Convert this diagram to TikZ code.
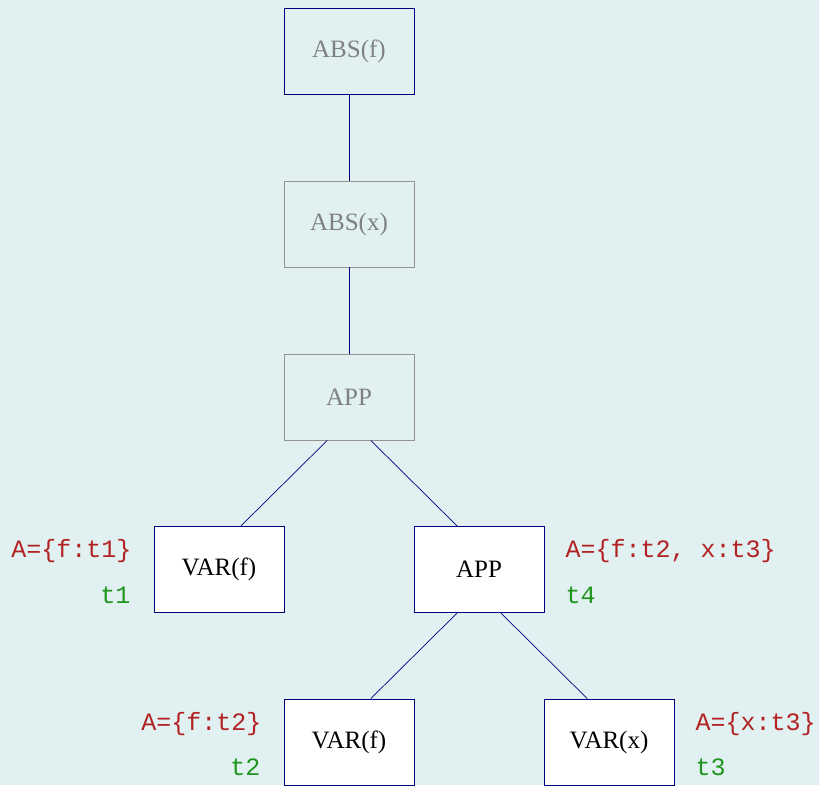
\documentclass[tikz,border=0pt]{standalone}
\usepackage{fontspec}
\setmainfont{Liberation Serif}
\setmonofont{Liberation Mono}
\usetikzlibrary{calc}

\definecolor{bgcol}{RGB}{225,241,241}
\definecolor{edgecol}{RGB}{0,0,128}
\definecolor{envcol}{RGB}{178,34,34}
\definecolor{typcol}{RGB}{30,150,30}

\begin{document}
\begin{tikzpicture}[x=1pt,y=-1pt,
    term/.style={draw, line width=0.9pt, minimum width=130pt, minimum height=86pt,
                 inner sep=0pt, font=\fontsize{25}{29}\selectfont},
    doneterm/.style={term, draw=gray!85, text=gray},
    curterm/.style={term, draw=edgecol, fill=white, text=black},
    envlbl/.style={inner sep=0pt, text=envcol, font=\ttfamily\fontsize{25}{28}\selectfont},
    typlbl/.style={inner sep=0pt, text=typcol, font=\ttfamily\fontsize{25}{28}\selectfont},
    link/.style={draw=edgecol, line width=0.7pt}]
            \fill[bgcol] (0,0) rectangle (819,785);
            \useasboundingbox (0,0) rectangle (819,785);

            % the lambda term tree
            \node[doneterm, draw=edgecol] (absf) at (349,51.5) {ABS(f)};
            \node[doneterm] (absx) at (349,224) {ABS(x)};
            \node[doneterm] (app) at (349,397) {APP};
            \node[curterm] (varf) at (219,569.5) {VAR(f)};
            \node[curterm] (appb) at (479,569.5) {APP};
            \node[curterm] (varfb) at (349,742) {VAR(f)};
            \node[curterm] (varx) at (609,742) {VAR(x)};

            \draw[link] (absf) -- (absx);
            \draw[link] (absx) -- (app);
            \draw[link] ($(app.south west)!1/3!(app.south east)$) -- ($(varf.north west)!2/3!(varf.north east)$);
            \draw[link] ($(app.south west)!2/3!(app.south east)$) -- ($(appb.north west)!1/3!(appb.north east)$);
            \draw[link] ($(appb.south west)!1/3!(appb.south east)$) -- ($(varfb.north west)!2/3!(varfb.north east)$);
            \draw[link] ($(appb.south west)!2/3!(appb.south east)$) -- ($(varx.north west)!1/3!(varx.north east)$);

            % environments and types
            \node[envlbl, anchor=east] (varfenv) at ([xshift=-22pt,yshift=-25pt]varf.north west) {A=\{f:t1\}};
            \node[typlbl, anchor=east] (varftyp) at ([xshift=-23pt,yshift=-69pt]varf.north west) {t1};
            \node[envlbl, anchor=west] (appbenv) at ([xshift=21pt,yshift=-25pt]appb.north east) {A=\{f:t2, x:t3\}};
            \node[typlbl, anchor=west] (appbtyp) at ([xshift=21pt,yshift=-69pt]appb.north east) {t4};
            \node[envlbl, anchor=east] (varfbenv) at ([xshift=-22pt,yshift=-25pt]varfb.north west) {A=\{f:t2\}};
            \node[typlbl, anchor=east] (varfbtyp) at ([xshift=-23pt,yshift=-69pt]varfb.north west) {t2};
            \node[envlbl, anchor=west] (varxenv) at ([xshift=21pt,yshift=-25pt]varx.north east) {A=\{x:t3\}};
            \node[typlbl, anchor=west] (varxtyp) at ([xshift=21pt,yshift=-69pt]varx.north east) {t3};
        \end{tikzpicture}
\end{document}
